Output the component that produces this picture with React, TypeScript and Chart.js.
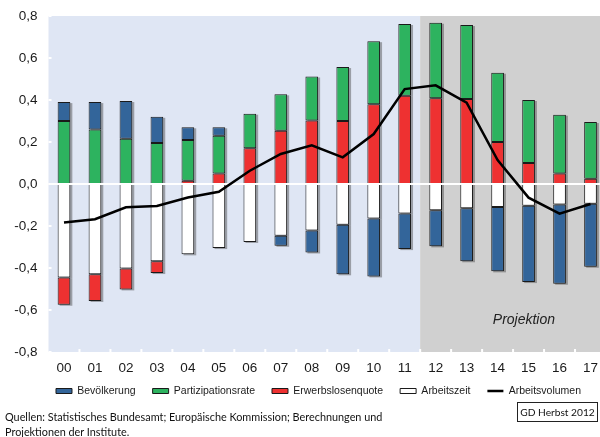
import React, { useEffect, useRef } from "react";
import { Chart, registerables } from "chart.js";
Chart.register(...registerables);

// ---- data ----
const years = ["00", "01", "02", "03", "04", "05", "06", "07", "08", "09", "10", "11", "12", "13", "14", "15", "16", "17"];
const bevoelkerung = [0.09, 0.13, 0.18, 0.125, 0.06, 0.04, null, -0.048, -0.105, -0.236, -0.276, -0.17, -0.172, -0.252, -0.306, -0.364, -0.377, -0.3];
const partizipationsrate = [0.3, 0.26, 0.215, 0.195, 0.195, 0.18, 0.165, 0.173, 0.21, 0.257, 0.3, 0.342, 0.36, 0.352, 0.33, 0.3, 0.28, 0.27];
const erwerbslosenquote = [-0.13, -0.127, -0.1, -0.056, 0.015, 0.05, 0.17, 0.254, 0.302, 0.3, 0.38, 0.42, 0.408, 0.405, 0.2, 0.1, 0.05, 0.025];
const arbeitszeit = [-0.445, -0.43, -0.402, -0.368, -0.335, -0.305, -0.276, -0.246, -0.221, -0.194, -0.164, -0.14, -0.125, -0.116, -0.11, -0.103, -0.098, -0.094];
const arbeitsvolumen = [-0.183, -0.168, -0.111, -0.105, -0.064, -0.037, 0.063, 0.143, 0.184, 0.127, 0.238, 0.452, 0.47, 0.387, 0.114, -0.065, -0.141, -0.095];
const yMin = -0.8;
const yMax = 0.8;
const yStep = 0.2;
const projectionStartIndex = 12;

// ---- styles ----
const C_BLUE = "#33659A";
const C_GREEN = "#2DB35F";
const C_RED = "#EE3131";
const C_WHITE = "#FFFFFF";
const C_BORDER = "#1a1a1a";
const BG_HIST = "#DFE6F4";
const BG_PROJ = "#D0D0D0";
const FONT = '"Liberation Sans", Arial, sans-serif';

const decor = {
  id: "decor",
  beforeDatasetsDraw(chart: any) {
    const { ctx, chartArea: ca, scales } = chart;
    const x = scales.x, y = scales.y;
    const top = y.getPixelForValue(yMax);
    const bottom = y.getPixelForValue(yMin);
    const split = (x.getPixelForValue(projectionStartIndex - 1) + x.getPixelForValue(projectionStartIndex)) / 2;
    ctx.save();
    ctx.fillStyle = BG_HIST;
    ctx.fillRect(ca.left, top, split - ca.left, bottom - top);
    ctx.fillStyle = BG_PROJ;
    ctx.fillRect(split, top, ca.right - split, bottom - top);
    ctx.fillStyle = "#ffffff";
    for (let v = yMin; v <= yMax + 1e-9; v += yStep) {
      const py = y.getPixelForValue(v);
      ctx.fillRect(ca.left, py - 1, 3, 2);
    }
    const half = (x.getPixelForValue(1) - x.getPixelForValue(0)) / 2;
    for (let i = 1; i < years.length; i++) {
      const px = x.getPixelForValue(i) - half;
      ctx.fillRect(px - 1, bottom - 3, 2, 3);
    }
    ctx.fillStyle = "rgba(70,70,70,0.45)";
    chart.data.datasets.forEach((ds: any, di: number) => {
      if (ds.type === "line") return;
      const meta = chart.getDatasetMeta(di);
      meta.data.forEach((el: any, j: number) => {
        if (ds.data[j] == null) return;
        const t = Math.min(el.y, el.base);
        const h = Math.abs(el.y - el.base);
        ctx.fillRect(el.x - el.width / 2 + 2, t + 1, el.width, h);
      });
    });
    ctx.font = "italic 14px " + FONT;
    ctx.fillStyle = "#222";
    ctx.textAlign = "center";
    ctx.textBaseline = "middle";
    ctx.fillText("Projektion", x.getPixelForValue(14.85), y.getPixelForValue(-0.65));
    ctx.restore();
  },
  afterDatasetDraw(chart: any, args: any) {
    if (args.index === 1) {
      const { ctx, chartArea: ca, scales } = chart;
      const py = scales.y.getPixelForValue(0);
      ctx.save();
      ctx.fillStyle = "#ffffff";
      ctx.fillRect(ca.left, py - 1, ca.right - ca.left, 2);
      ctx.restore();
    }
  },
};

const legendShift = {
  id: "legendShift",
  afterLayout(chart: any) {
    const l = chart.legend;
    if (!l) return;
    const dx = 318.5 - (l.left + l.right) / 2;
    const dy = 391 - (l.top + 17 + 5.25);
    l.left += dx;
    l.right += dx;
    l.top += dy;
    l.bottom += dy;
  },
};

export default function App() {
  const ref = useRef<HTMLCanvasElement>(null);
  useEffect(() => {
    const barCommon = {
      type: "bar" as const,
      borderColor: C_BORDER,
      borderWidth: 1,
      borderSkipped: false,
      barPercentage: 0.41,
      categoryPercentage: 1,
      stack: "s",
    };
    const chart = new Chart(ref.current!, {
      type: "bar",
      data: {
        labels: years,
        datasets: [
          {
            type: "line",
            label: "Arbeitsvolumen",
            data: arbeitsvolumen,
            borderColor: "#000",
            backgroundColor: "#000",
            borderWidth: 2.5,
            pointRadius: 0,
            tension: 0,
            stack: "line",
          } as any,
          { ...barCommon, label: "Arbeitszeit", data: arbeitszeit, backgroundColor: C_WHITE },
          { ...barCommon, label: "Erwerbslosenquote", data: erwerbslosenquote, backgroundColor: C_RED },
          { ...barCommon, label: "Partizipationsrate", data: partizipationsrate, backgroundColor: C_GREEN },
          { ...barCommon, label: "Bevölkerung", data: bevoelkerung, backgroundColor: C_BLUE },
        ],
      },
      options: {
        responsive: false,
        maintainAspectRatio: false,
        animation: false,
        layout: { padding: { left: 0, right: 6, top: 16, bottom: 15.3 } },
        scales: {
          x: {
            stacked: true,
            grid: { display: false, drawTicks: false },
            border: { display: false },
            ticks: {
              color: "#1a1a1a",
              font: { family: FONT, size: 13.5 },
              padding: 8,
              maxRotation: 0,
              autoSkip: false,
            },
          },
          y: {
            stacked: true,
            min: yMin,
            max: yMax,
            grid: { display: false, drawTicks: false },
            border: { display: false },
            afterFit: (s: any) => {
              s.width = 48.5;
            },
            ticks: {
              stepSize: yStep,
              color: "#1a1a1a",
              font: { family: FONT, size: 13.5, lineHeight: 0.6 },
              padding: 11,
              callback: (v: any) => Number(v).toFixed(1).replace(".", ",").replace("-0,0", "0,0"),
            },
          },
        },
        plugins: {
          tooltip: { enabled: false },
          legend: {
            position: "bottom",
            labels: {
              usePointStyle: true,
              pointStyleWidth: 16,
              boxHeight: 5,
              padding: 17,
              color: "#1a1a1a",
              font: { family: FONT, size: 10.5 },
              generateLabels: (c: any) => {
                const items = (Chart.defaults.plugins.legend.labels as any).generateLabels(c);
                return items.map((it: any) => {
                  const ds = c.data.datasets[it.datasetIndex];
                  if (ds.type === "line") {
                    return { ...it, pointStyle: "line", strokeStyle: "#000", lineWidth: 2.5 };
                  }
                  return { ...it, pointStyle: "rect", strokeStyle: C_BORDER, lineWidth: 1, fillStyle: ds.backgroundColor };
                });
              },
              sort: (a: any, b: any) => b.datasetIndex - a.datasetIndex,
            },
          },
        },
      },
      plugins: [decor, legendShift],
    });
    return () => chart.destroy();
  }, []);

  return (
    <div style={{ position: "fixed", left: 0, top: 0, width: 600, height: 437, overflow: "hidden", background: "#fff" }}>
      <canvas ref={ref} width={612} height={437} style={{ position: "absolute", left: 0, top: 0, width: 612, height: 437 }} />
      <div
        style={{
          position: "absolute",
          left: 5,
          top: 409,
          font: "10.85px Lato, sans-serif",
          lineHeight: "15px",
          color: "#111",
          whiteSpace: "nowrap",
        }}
      >
        Quellen: Statistisches Bundesamt; Europäische Kommission; Berechnungen und
        <br />
        Projektionen der Institute.
      </div>
      <div
        style={{
          position: "absolute",
          left: 517,
          top: 402,
          width: 81,
          height: 20,
          boxSizing: "border-box",
          border: "1px solid #222",
          font: "10.2px Lato, sans-serif",
          color: "#111",
          whiteSpace: "nowrap",
          display: "flex",
          alignItems: "center",
          justifyContent: "center",
        }}
      >
        GD Herbst 2012
      </div>
    </div>
  );
}
